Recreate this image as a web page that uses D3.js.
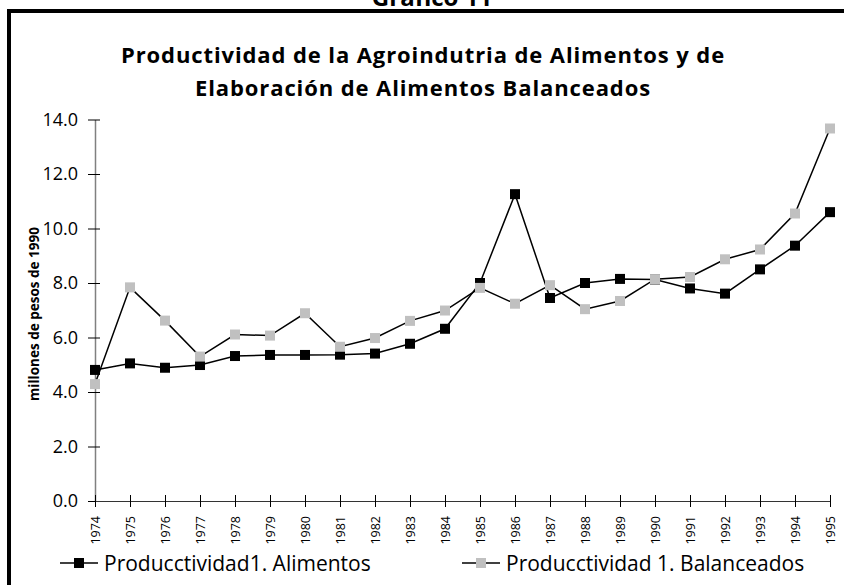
<!DOCTYPE html>
<html>
<head>
<meta charset="utf-8">
<script src="https://cdn.jsdelivr.net/npm/d3@7"></script>
<style>
  body { margin: 0; background: #fff; }
  text { font-family: "Open Sans", sans-serif; }
</style>
</head>
<body>
<div id="chart-area"></div>
<script>
// data
const years = ["1974","1975","1976","1977","1978","1979","1980","1981","1982","1983","1984",
  "1985","1986","1987","1988","1989","1990","1991","1992","1993","1994","1995"]
const alimentos = [4.81, 5.05, 4.89, 4.99, 5.32, 5.36, 5.36, 5.37, 5.41, 5.77, 6.32,
  8.0, 11.26, 7.45, 8.0, 8.15, 8.13, 7.8, 7.61, 8.5, 9.37, 10.6]
const balanceados = [4.29, 7.84, 6.62, 5.3, 6.11, 6.07, 6.89, 5.66, 5.98, 6.61, 6.99,
  7.82, 7.24, 7.92, 7.04, 7.34, 8.14, 8.22, 8.87, 9.23, 10.55, 13.67]
const yTicks = [0, 2, 4, 6, 8, 10, 12, 14]
const seriesNames = ["Producctividad1. Alimentos", "Producctividad 1. Balanceados"]

const W = 844, H = 585
const svg = d3.select("#chart-area").append("svg")
  .attr("width", W)
  .attr("height", H)

// frame (runs off the right and bottom edges)
svg.append("rect")
  .attr("x", 9).attr("y", 11)
  .attr("width", W + 20).attr("height", H + 20)
  .attr("fill", "none").attr("stroke", "#000").attr("stroke-width", 4)

// cut-off header above the frame
svg.append("text")
  .attr("x", 432).attr("y", 6)
  .attr("text-anchor", "middle")
  .attr("font-size", "24px").attr("font-weight", "bold")
  .text("Gráfico 11")

// title
const title = svg.append("text")
  .attr("text-anchor", "middle")
  .attr("font-size", "22px").attr("font-weight", "bold")
  .attr("letter-spacing", "0.9px")
title.append("tspan").attr("x", 423).attr("y", 63)
  .text("Productividad de la Agroindutria de Alimentos y de")
title.append("tspan").attr("x", 423).attr("y", 96)
  .text("Elaboración de Alimentos Balanceados")

// scales
const x = d3.scalePoint().domain(years).range([95, 830])
const y = d3.scaleLinear().domain([0, 14]).range([501, 119.5])

// y axis
const yAxis = svg.append("g")
  .attr("transform", "translate(95,0)")
  .call(d3.axisLeft(y).tickValues(yTicks).tickFormat(d3.format(".1f"))
    .tickSize(7).tickSizeOuter(0).tickPadding(10))
yAxis.select(".domain").attr("stroke", "#808080").attr("stroke-width", 1.5)
yAxis.selectAll(".tick line").attr("x1", 5).attr("stroke", "#000")
yAxis.selectAll(".tick text").attr("font-size", "18px").attr("fill", "#000")

// x axis
const xAxis = svg.append("g")
  .attr("transform", "translate(0,501)")
  .call(d3.axisBottom(x).tickSize(6).tickSizeOuter(0))
xAxis.select(".domain").attr("stroke", "#333")
xAxis.selectAll(".tick line").attr("y1", -6).attr("stroke", "#000")
xAxis.selectAll(".tick text")
  .attr("font-size", "12.5px").attr("fill", "#000")
  .attr("transform", "rotate(-90)")
  .attr("text-anchor", "end")
  .attr("x", -15).attr("y", 0).attr("dy", "0.35em")

// y label
svg.append("text")
  .attr("transform", "translate(39,314) rotate(-90)")
  .attr("text-anchor", "middle")
  .attr("font-size", "13.5px").attr("font-weight", "bold")
  .text("millones de pesos de 1990")

// series
const line = d3.line().x((d, i) => x(years[i])).y(d => y(d))
const series = [
  { name: seriesNames[0], values: alimentos, fill: "#000" },
  { name: seriesNames[1], values: balanceados, fill: "#c0c0c0" }
]
const M = 10
series.forEach(s => {
  svg.append("path")
    .datum(s.values)
    .attr("d", line)
    .attr("fill", "none").attr("stroke", "#000").attr("stroke-width", 1.5)
})
series.forEach(s => {
  svg.append("g").selectAll("rect")
    .data(s.values)
    .join("rect")
    .attr("x", (d, i) => x(years[i]) - M / 2)
    .attr("y", d => y(d) - M / 2)
    .attr("width", M).attr("height", M)
    .attr("fill", s.fill)
})

// legend
const legendX = [60, 462]
series.forEach((s, i) => {
  const lg = svg.append("g").attr("transform", `translate(${legendX[i]}, 563)`)
  lg.append("line").attr("x1", 0).attr("x2", 38)
    .attr("stroke", "#000").attr("stroke-width", 1.5)
  lg.append("rect").attr("x", 14).attr("y", -5).attr("width", 10).attr("height", 10)
    .attr("fill", s.fill)
  lg.append("text").attr("x", 44).attr("y", 7.5)
    .attr("font-size", "21px")
    .text(s.name)
})
</script>
</body>
</html>
